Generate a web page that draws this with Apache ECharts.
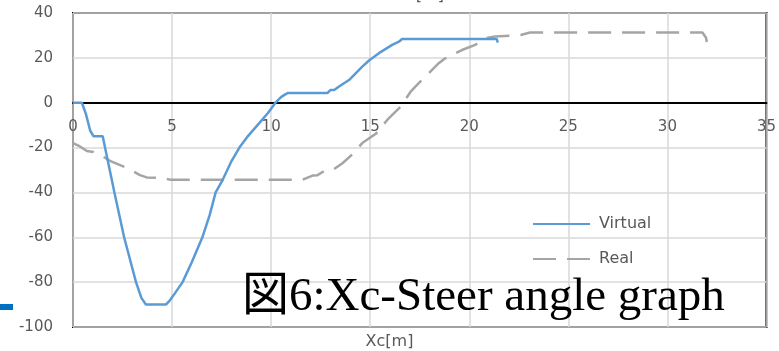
<!DOCTYPE html>
<html>
<head>
<meta charset="utf-8">
<script src="https://cdn.jsdelivr.net/npm/echarts@6/dist/echarts.min.js"></script>
<style>
html,body{margin:0;padding:0;background:#fff;}
#chart{width:779px;height:351px;}
</style>
</head>
<body>
<div id="chart"></div>
<script>
// Data
const virtualX = [0, 0.45, 0.65, 0.87, 1.04, 1.5, 1.71, 1.96, 2.09, 2.58, 3.18, 3.45, 3.68, 4.69, 4.9, 5.14, 5.53, 6.0, 6.53, 6.9, 7.2, 7.55, 8.0, 8.4, 8.82, 9.41, 9.83, 10.22, 10.5, 10.67, 10.83, 12.84, 13.0, 13.18, 13.43, 13.93, 14.6, 14.94, 15.44, 16.11, 16.45, 16.61, 21.39, 21.44];
const virtualY = [0, 0, -5, -12.5, -15, -15, -24, -34.5, -40, -60, -80, -87, -90, -90, -88, -85, -80, -71, -60, -50, -40, -34.5, -26, -20, -15, -9, -4.7, 0, 2.5, 3.5, 4.3, 4.3, 5.7, 5.7, 7.2, 10.1, 16.1, 18.8, 22.1, 25.8, 27.2, 28.4, 28.4, 26.8];
const realX = [0, 0.35, 0.7, 1.03, 1.37, 1.87, 2.38, 2.79, 3.38, 3.72, 4.39, 4.89, 11.59, 12.09, 12.34, 12.76, 13.1, 13.6, 14.1, 14.6, 15.3, 15.86, 16.53, 17.04, 17.45, 18.0, 18.46, 18.79, 19.63, 20.3, 20.8, 21.3, 22.6, 23.07, 31.77, 31.95, 32.03];
const realY = [-18, -19.5, -21.5, -22, -23.3, -25.9, -27.8, -29.3, -32.3, -33.3, -33.5, -34.3, -34.3, -32.5, -32.3, -30, -30, -27, -23, -18, -13.7, -7.7, -1.8, 4.9, 8.7, 13.5, 17.6, 19.8, 23.5, 25.8, 28.7, 29.5, 30.2, 31.3, 31.3, 29, 25];
const seriesNames = ['Virtual', 'Real'];
const xAxisTitle = 'Xc[m]';
const captionText = '図6:Xc-Steer angle graph';

const pairs = (xs, ys) => xs.map((x, i) => [x, ys[i]]);

const W = 779, H = 351;
const gridTop = 13, gridBottom = 24;
const yMin = -100, yMax = 40;
const plotH = H - gridTop - gridBottom;
// move the x axis (line and labels) up to the y = 0 line
const zeroOffset = -(plotH * (0 - yMin) / (yMax - yMin));

const chart = echarts.init(document.getElementById('chart'));
const labelFont = 'DejaVu Sans';
chart.setOption({
  animation: false,
  backgroundColor: '#ffffff',
  grid: { left: 73, right: 12, top: gridTop, bottom: gridBottom, show: true, borderColor: '#000000', borderWidth: 2, backgroundColor: 'transparent' },
  xAxis: {
    type: 'value', min: 0, max: 35, interval: 5,
    offset: zeroOffset,
    axisLine: { show: true, onZero: false, lineStyle: { color: '#000000', width: 2 } },
    axisTick: { show: false },
    axisLabel: { color: '#595959', fontSize: 15, fontFamily: labelFont, margin: 17 },
    splitLine: { show: true, lineStyle: { color: '#d9d9d9', width: 1.5 } }
  },
  yAxis: {
    type: 'value', min: yMin, max: yMax, interval: 20,
    axisLine: { show: false },
    axisTick: { show: false },
    axisLabel: { color: '#595959', fontSize: 15, fontFamily: labelFont, margin: 20 },
    splitLine: { show: true, lineStyle: { color: '#d9d9d9', width: 1.5 } }
  },
  legend: {
    orient: 'vertical', left: 527, top: 211,
    itemWidth: 57, itemHeight: 14, itemGap: 19,
    itemStyle: { opacity: 0 },
    textStyle: { color: '#595959', fontSize: 16, fontFamily: labelFont, padding: [0, 0, 0, 4] },
    data: seriesNames
  },
  series: [
    { name: seriesNames[0], type: 'line', data: pairs(virtualX, virtualY), showSymbol: false, symbol: 'none',
      lineStyle: { color: '#5b9bd5', width: 2.5 }, itemStyle: { color: '#5b9bd5' }, z: 3 },
    { name: seriesNames[1], type: 'line', data: pairs(realX, realY), showSymbol: false, symbol: 'none',
      lineStyle: { color: '#a5a5a5', width: 2.5, type: [23, 11] }, itemStyle: { color: '#a5a5a5' }, z: 2 }
  ],
  graphic: [
    { type: 'text', left: 'center', top: 334, style: { text: xAxisTitle, fill: '#595959', font: '16px "DejaVu Sans"' } },
    { type: 'text', x: 420, y: -12, style: { text: xAxisTitle, fill: '#595959', font: '16px "DejaVu Sans"', textAlign: 'center' } },
    { type: 'rect', shape: { x: 0, y: 304, width: 13, height: 6 }, style: { fill: '#0070c0' } },
    { type: 'text', left: 242, top: 274, z: 10, style: { text: captionText, fill: '#000000', font: '47px "Liberation Serif", "Noto Sans CJK JP"' } }
  ]
});
</script>
</body>
</html>
